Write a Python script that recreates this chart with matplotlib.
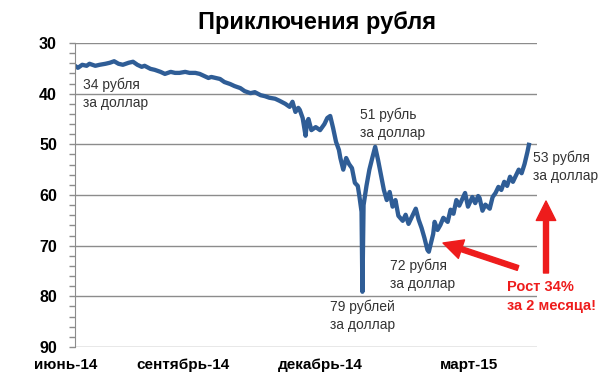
import numpy as np
import matplotlib
matplotlib.use("Agg")
import matplotlib.pyplot as plt
from matplotlib.patches import FancyArrowPatch

# days since 1 June 2014 and RUB per USD
days = [0, 2, 5, 8, 10, 14, 17, 21, 24, 27, 30, 33, 37, 40, 43, 46, 48, 52, 55, 59,
        62, 66, 69, 72, 76, 79, 83, 86, 89, 92, 94, 97, 100, 103, 107, 110, 114, 117,
        121, 124, 128, 131, 134, 138, 141, 145, 148, 150, 152, 154, 155, 157, 159, 160,
        161, 163, 166, 169, 172, 174, 176, 178, 180, 182, 183, 185, 187, 189, 191, 193,
        195, 196, 197.6, 198.2, 199, 201, 203, 205, 207, 209, 211, 213, 215, 217, 219,
        221, 223, 226, 228, 230, 232, 235, 237, 239, 241, 243, 244, 247, 248, 250, 252,
        254, 257, 259, 261, 263, 265, 268, 269, 271, 274, 276, 278, 279, 281, 283, 286,
        288, 290, 292, 294, 296, 298, 300, 302, 304, 306, 308, 310, 312, 313]
rate = [34.5, 34.9, 34.3, 34.5, 34.1, 34.5, 34.3, 34.1, 33.9, 33.6, 34.1, 34.3, 33.9,
        33.7, 34.3, 34.7, 34.5, 35.1, 35.3, 35.7, 36.1, 35.7, 35.9, 35.9, 35.7, 35.9,
        35.9, 36.1, 36.5, 36.9, 36.7, 36.9, 37.1, 37.7, 38.1, 38.5, 38.9, 39.5, 39.9,
        39.7, 40.3, 40.5, 40.8, 41.0, 41.4, 42.0, 42.6, 41.6, 43.6, 42.8, 43.2, 44.8,
        48.3, 45.6, 45.0, 47.2, 46.6, 47.2, 46.0, 44.8, 44.4, 46.8, 49.5, 51.1, 52.7,
        55.0, 52.7, 53.9, 54.7, 57.6, 58.2, 60.0, 63.3, 79.1, 62.0, 58.2, 55.0, 52.7,
        50.5, 53.1, 56.0, 59.0, 61.0, 59.4, 62.3, 61.0, 64.1, 65.1, 63.9, 65.7, 64.5,
        62.7, 64.9, 66.5, 68.5, 70.8, 71.2, 67.7, 65.3, 66.9, 65.9, 64.5, 65.3, 62.9,
        63.7, 61.0, 62.1, 60.2, 59.6, 62.3, 60.4, 61.6, 60.2, 60.6, 63.1, 61.9, 62.7,
        60.4, 59.6, 58.4, 59.0, 57.4, 58.2, 56.4, 57.4, 56.2, 55.0, 55.7, 53.9, 51.5, 50.1]

month_labels = ["июнь-14", "сентябрь-14", "декабрь-14", "март-15"]
month_pos = [-6.2, 74.5, 169, 271.7]

title = "Приключения рубля"
notes = ["34 рубля\nза доллар", "51 рубль\nза доллар", "53 рубля\nза доллар",
         "72 рубля\nза доллар", "79 рублей\nза доллар"]
note_px = [(83, 78), (360, 108), (533, 151), (390, 259), (330, 300)]

W, H = 600, 383
plt.rcParams['font.family'] = ['Liberation Sans', 'DejaVu Sans']

fig = plt.figure(figsize=(6, 3.83), dpi=100)
ax = fig.add_axes([75 / W, 1 - 347 / H, (537 - 75) / W, (347 - 43) / H])


def fx(px):
    return px / W


def fy(py):
    return 1 - py / H


ax.plot(days, rate, color='#2f5d96', lw=3.1, solid_joinstyle='round')

ax.set_xlim(0, 318.6)
ax.set_ylim(90, 30)
ax.set_yticks(np.arange(30, 91, 10))
ax.set_yticks(np.arange(30, 91, 2), minor=True)
ax.set_xticks([])
ax.grid(axis='y', color='#8c8c8c', lw=1)
ax.set_axisbelow(True)
for s in ['top', 'right', 'bottom']:
    ax.spines[s].set_visible(False)
ax.spines['left'].set_color('#8c8c8c')
ax.tick_params(axis='y', which='both', direction='out', color='#8c8c8c', length=4, width=1)
ax.tick_params(axis='y', which='major', pad=9, labelsize=11.5)
for lab in ax.get_yticklabels():
    lab.set_fontweight('bold')

for lab, pos in zip(month_labels, month_pos):
    ax.text(pos, -0.06, lab, transform=ax.get_xaxis_transform(), ha='center', va='center',
            fontsize=11, fontweight='bold', clip_on=False)

fig.text(fx(317), fy(23), title, ha='center', va='center', fontsize=17, fontweight='bold')

for txt, (px, py) in zip(notes, note_px):
    fig.text(fx(px), fy(py), txt, ha='left', va='top', fontsize=10, color='#333333',
             linespacing=1.35)

red = '#ee1c1c'
fig.text(fx(507), fy(280), "Рост 34%\nза 2 месяца!", ha='left', va='top', fontsize=10.5,
         fontweight='bold', color=red, linespacing=1.45)

style = 'simple,head_width=14,head_length=14,tail_width=3.6'
for a, b in [((518, 268), (443, 243)), ((546, 273), (546, 201))]:
    arr = FancyArrowPatch((fx(a[0]), fy(a[1])), (fx(b[0]), fy(b[1])), transform=fig.transFigure,
                          arrowstyle=style, color=red, shrinkA=0, shrinkB=0, mutation_scale=1)
    fig.add_artist(arr)

fig.savefig("out.png", dpi=100)
